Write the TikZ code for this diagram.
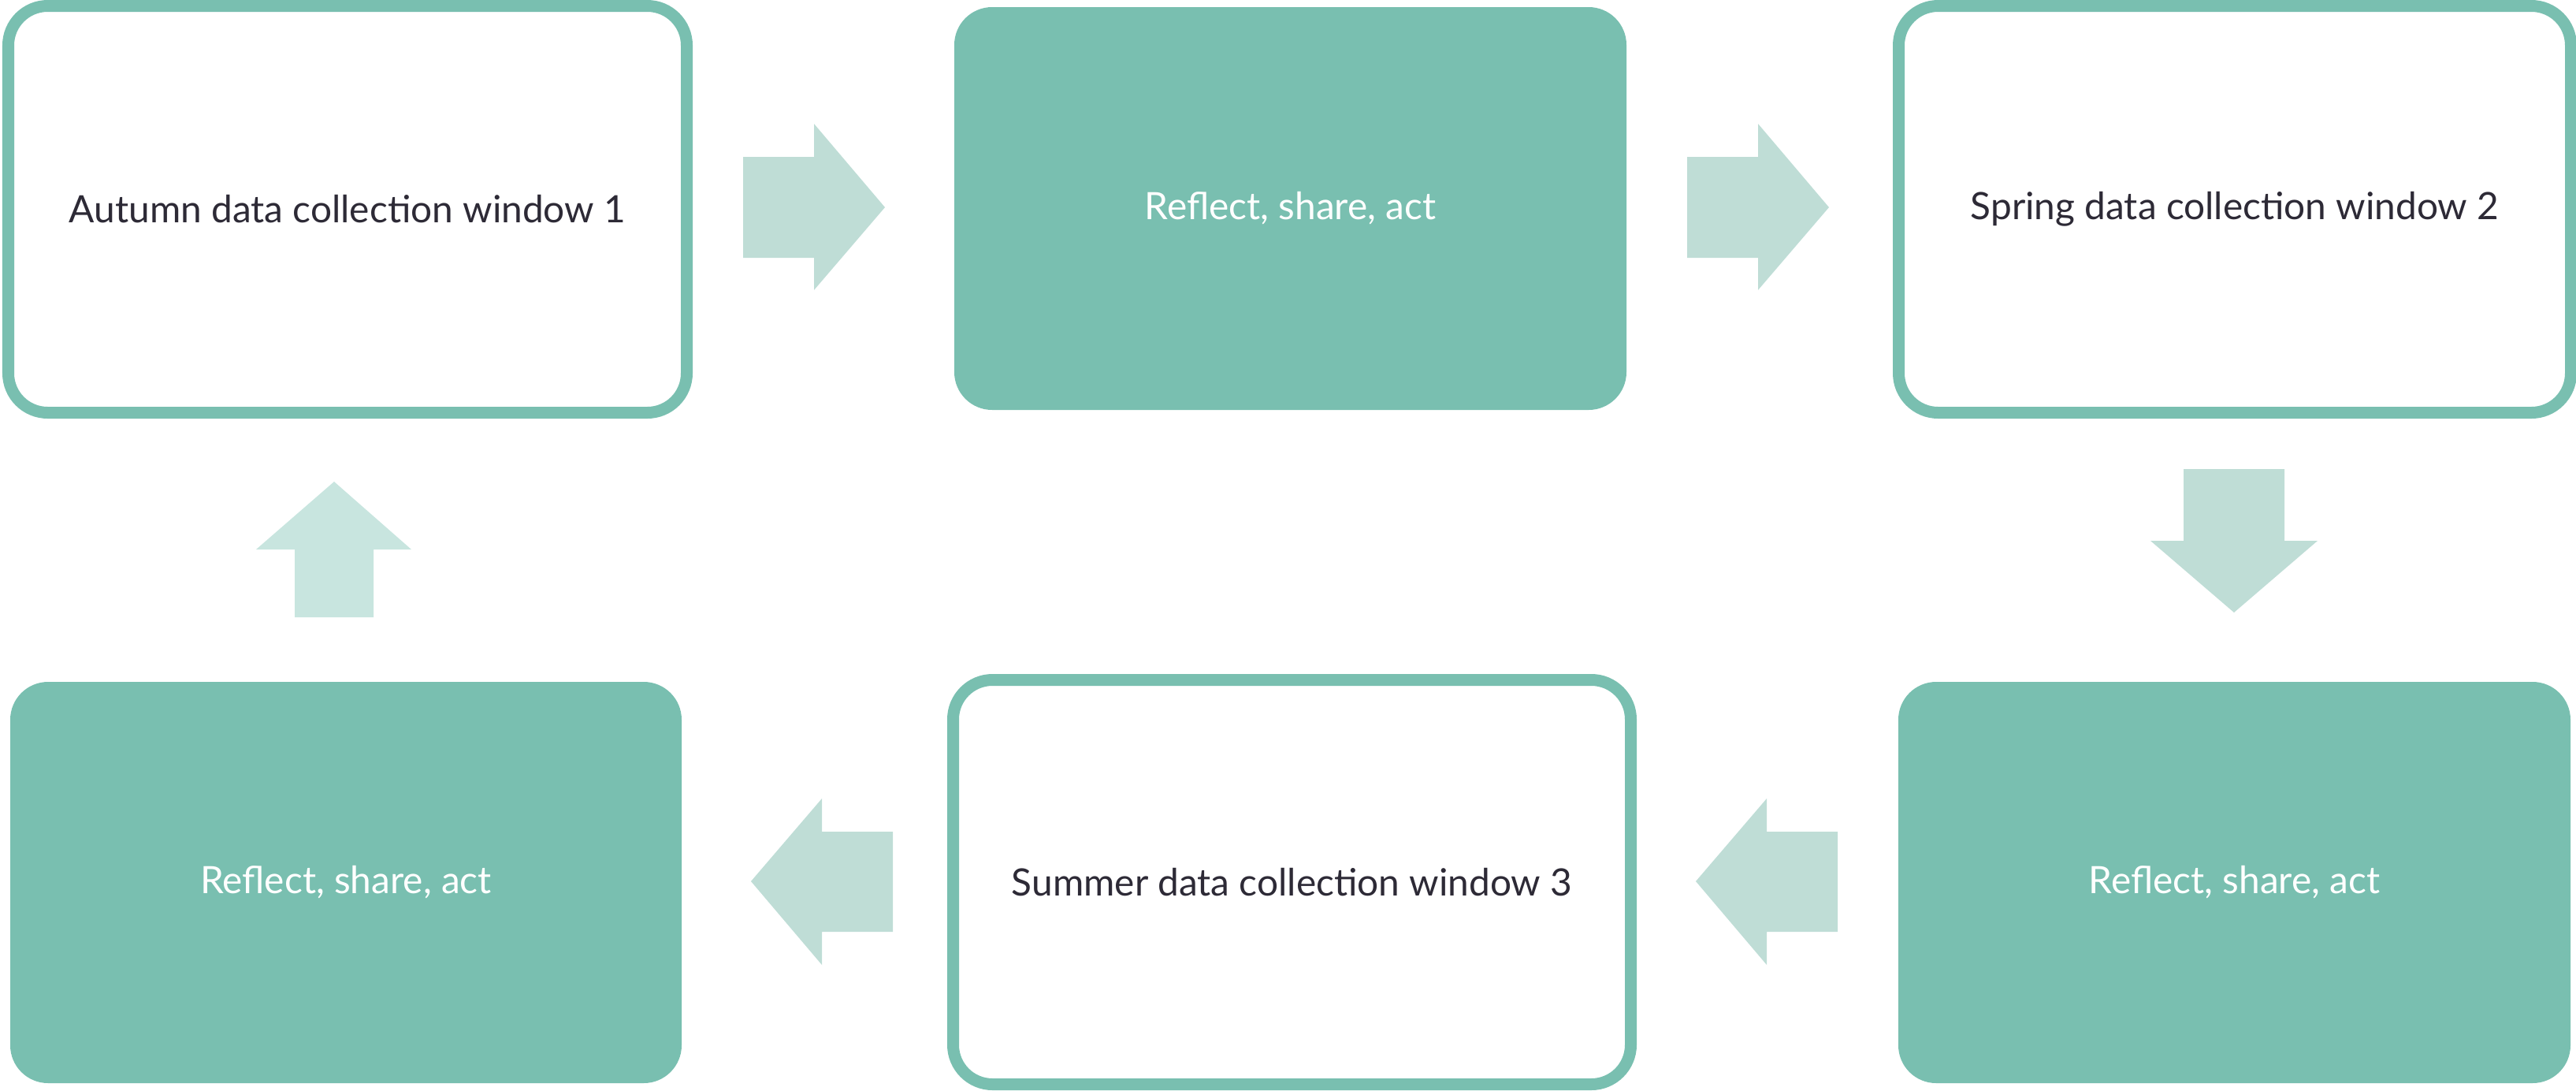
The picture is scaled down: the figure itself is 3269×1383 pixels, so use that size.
\documentclass[tikz,border=0pt]{standalone}
\usepackage{fontspec}
\setmainfont{Lato}
\definecolor{teal}{HTML}{79BFB0}
\definecolor{arrowfill}{HTML}{BFDDD6}
\definecolor{arrowpale}{HTML}{C8E5DF}
\definecolor{ink}{HTML}{2D2A36}
\tikzset{
  sz/.style 2 args={minimum width=#1*0.25pt, minimum height=#2*0.25pt},
  stage/.style={draw=teal, line width=3.75pt, fill=white, rounded corners=12.5pt,
    text=ink, font=\fontsize{11.95pt}{14pt}\selectfont, inner sep=0pt},
  reflect/.style={fill=teal, draw=none, rounded corners=12pt,
    text=white, font=\fontsize{11.95pt}{14pt}\selectfont, inner sep=0pt},
  blockarrow/.style={fill=arrowfill, draw=none},
}
\begin{document}
\begin{tikzpicture}[x=0.25pt, y=-0.25pt]
  \useasboundingbox (0,0) rectangle (3269,1383);

  % top row
  \node[stage, sz={861}{516}]   (autumn)  at (441,265.5)   {Autumn data collection window 1};
  \node[reflect, sz={853}{511}] (refl1)   at (1637.5,264.5) {Reflect, share, act};
  \node[stage, sz={853}{516}]   (spring)  at (2836,265.5)  {Spring data collection window 2};

  % bottom row
  \node[reflect, sz={852}{509}] (refl3)   at (439,1119.5)   {Reflect, share, act};
  \node[stage, sz={860}{513}]   (summer)  at (1639.5,1119)  {Summer data collection window 3};
  \node[reflect, sz={853}{509}] (refl2)   at (2835.5,1119.5){Reflect, share, act};

  % block arrows between the stages
  \fill[blockarrow] (943,199) -- (1033,199) -- (1033,157) -- (1123,263)
    -- (1033,368) -- (1033,327) -- (943,327) -- cycle;
  \fill[blockarrow] (2141,199) -- (2231,199) -- (2231,157) -- (2321,263)
    -- (2231,368) -- (2231,327) -- (2141,327) -- cycle;
  \fill[blockarrow] (2771,595) -- (2899,595) -- (2899,686) -- (2941,686)
    -- (2835,777) -- (2729,686) -- (2771,686) -- cycle;
  \fill[blockarrow] (2332,1055) -- (2242,1055) -- (2242,1013) -- (2152,1118)
    -- (2242,1224) -- (2242,1182) -- (2332,1182) -- cycle;
  \fill[blockarrow] (1133,1055) -- (1043,1055) -- (1043,1013) -- (953,1118)
    -- (1043,1224) -- (1043,1182) -- (1133,1182) -- cycle;
  \fill[arrowpale] (374,783) -- (374,697) -- (325,697) -- (424,611)
    -- (522,697) -- (474,697) -- (474,783) -- cycle;
\end{tikzpicture}
\end{document}
